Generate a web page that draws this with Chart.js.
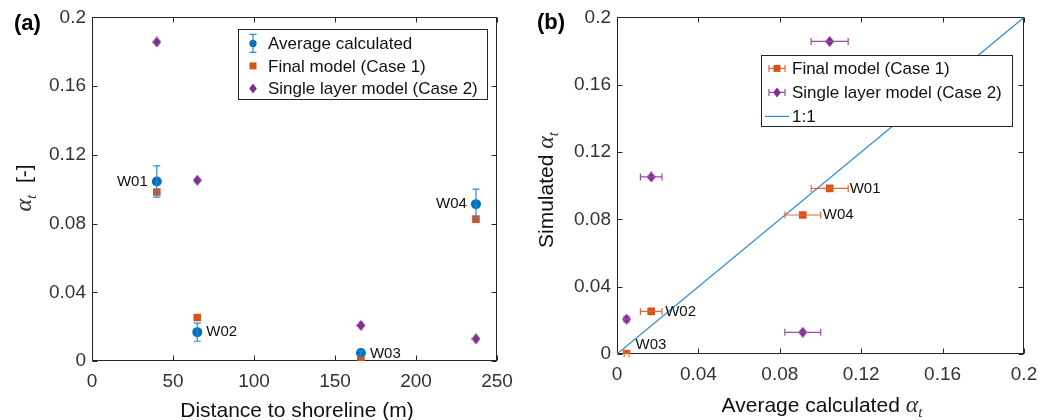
<!DOCTYPE html>
<html><head><meta charset="utf-8">
<script src="https://cdn.jsdelivr.net/npm/chart.js@4.4.0/dist/chart.umd.min.js"></script>
<style>
html,body{margin:0;padding:0;background:#fff;}
#wrap{position:relative;width:1053px;height:420px;overflow:hidden;background:#fff;}
canvas{position:absolute;top:0;}
</style></head><body>
<div id="wrap">
<canvas id="ca" width="527" height="420" style="left:0"></canvas>
<canvas id="cb" width="526" height="420" style="left:527px"></canvas>
</div>
<script>
// ---------------- data ----------------
const wells = ['W01', 'W02', 'W03', 'W04'];
const distance = [40, 65, 166, 237];
const avgCalculated = [0.1045, 0.0168, 0.0047, 0.0913];
const avgError = [0.0091, 0.0053, 0.0012, 0.0088];
const finalModel = [0.0984, 0.0253, 0.0002, 0.0826];
const singleLayer = [0.1857, 0.1052, 0.0207, 0.0129];
const distanceTicks = [0, 50, 100, 150, 200, 250];
const alphaTicks = [0, 0.04, 0.08, 0.12, 0.16, 0.2];
const oneToOne = [0, 0.2];
const legendA = ['Average calculated', 'Final model (Case 1)', 'Single layer model (Case 2)'];
const legendB = ['Final model (Case 1)', 'Single layer model (Case 2)', '1:1'];

// ---------------- styles ----------------
const SANS = '"Liberation Sans", Arial, sans-serif';
const SERIF = '"Liberation Serif", "DejaVu Serif", serif';
const BLUE = '#0072BD', ORANGE = '#D95319', PURPLE = '#7E2F8E';
const AXIS = '#262626';

function makeDiamond(w, h, color) {
  const c = document.createElement('canvas');
  c.width = w; c.height = h;
  const g = c.getContext('2d');
  g.fillStyle = color;
  g.beginPath();
  g.moveTo(w / 2, 0); g.lineTo(w, h / 2); g.lineTo(w / 2, h); g.lineTo(0, h / 2);
  g.closePath(); g.fill();
  return c;
}
const diamond = makeDiamond(9, 11, PURPLE);

// ---------------- plugins ----------------
const framePlugin = {
  id: 'frame',
  beforeDatasetsDraw(chart) {
    const { ctx, chartArea: a, scales: { x, y } } = chart;
    const L = Math.round(a.left) + 0.5, R = Math.round(a.right) - 0.5;
    const T = Math.round(a.top) + 0.5, B = Math.round(a.bottom) - 0.5;
    ctx.save();
    ctx.strokeStyle = AXIS; ctx.lineWidth = 1;
    ctx.strokeRect(L, T, R - L, B - T);
    const tl = 5;
    ctx.beginPath();
    x.ticks.forEach(t => {
      const px = Math.round(x.getPixelForValue(t.value)) + 0.5;
      ctx.moveTo(px, B); ctx.lineTo(px, B - tl);
      ctx.moveTo(px, T); ctx.lineTo(px, T + tl);
    });
    y.ticks.forEach(t => {
      const py = Math.round(y.getPixelForValue(t.value)) + 0.5;
      ctx.moveTo(L, py); ctx.lineTo(L + tl, py);
      ctx.moveTo(R, py); ctx.lineTo(R - tl, py);
    });
    ctx.stroke();
    ctx.restore();
  }
};

const errorBarPlugin = {
  id: 'errbars',
  afterDatasetsDraw(chart, args, opts) {
    const { ctx, scales: { x, y } } = chart;
    (opts.bars || []).forEach(b => {
      const ds = chart.data.datasets[b.dataset];
      ctx.save();
      ctx.strokeStyle = b.color; ctx.lineWidth = 1.2;
      ds.data.forEach((p, i) => {
        const e = b.err[i];
        ctx.beginPath();
        if (b.dir === 'y') {
          const px = x.getPixelForValue(p.x);
          const y1 = y.getPixelForValue(p.y - e), y2 = y.getPixelForValue(p.y + e);
          ctx.moveTo(px, y1); ctx.lineTo(px, y2);
          ctx.moveTo(px - b.cap, y1); ctx.lineTo(px + b.cap, y1);
          ctx.moveTo(px - b.cap, y2); ctx.lineTo(px + b.cap, y2);
        } else {
          const py = y.getPixelForValue(p.y);
          const x1 = x.getPixelForValue(p.x - e), x2 = x.getPixelForValue(p.x + e);
          ctx.moveTo(x1, py); ctx.lineTo(x2, py);
          ctx.moveTo(x1, py - b.cap); ctx.lineTo(x1, py + b.cap);
          ctx.moveTo(x2, py - b.cap); ctx.lineTo(x2, py + b.cap);
        }
        ctx.stroke();
      });
      ctx.restore();
    });
  }
};

const pointLabelPlugin = {
  id: 'ptlabels',
  afterDatasetsDraw(chart, args, opts) {
    if (!opts.labels) return;
    const { ctx, scales: { x, y } } = chart;
    const ds = chart.data.datasets[opts.dataset];
    ctx.save();
    ctx.font = '15px ' + SANS;
    ctx.fillStyle = '#111';
    ctx.textBaseline = 'middle';
    opts.labels.forEach((txt, i) => {
      const o = opts.offsets[i];
      const p = ds.data[i];
      ctx.textAlign = o.align;
      ctx.fillText(txt, x.getPixelForValue(p.x) + o.dx, y.getPixelForValue(p.y) + o.dy);
    });
    ctx.restore();
  }
};

function drawMarker(ctx, kind, cx, cy) {
  ctx.save();
  if (kind === 'circleV') {
    ctx.strokeStyle = '#2a8ad4'; ctx.lineWidth = 1.2;
    ctx.beginPath();
    ctx.moveTo(cx, cy - 9); ctx.lineTo(cx, cy + 9);
    ctx.moveTo(cx - 3.5, cy - 9); ctx.lineTo(cx + 3.5, cy - 9);
    ctx.moveTo(cx - 3.5, cy + 9); ctx.lineTo(cx + 3.5, cy + 9);
    ctx.stroke();
    ctx.fillStyle = BLUE;
    ctx.beginPath(); ctx.arc(cx, cy, 3.6, 0, Math.PI * 2); ctx.fill();
  } else if (kind === 'square') {
    ctx.fillStyle = ORANGE; ctx.fillRect(cx - 3.5, cy - 3.5, 7, 7);
  } else if (kind === 'diamond') {
    ctx.fillStyle = PURPLE;
    ctx.beginPath(); ctx.moveTo(cx, cy - 5); ctx.lineTo(cx + 3.8, cy); ctx.lineTo(cx, cy + 5); ctx.lineTo(cx - 3.8, cy); ctx.closePath(); ctx.fill();
  } else if (kind === 'squareH' || kind === 'diamondH') {
    const col = kind === 'squareH' ? '#e2683a' : '#9a4aaa';
    ctx.strokeStyle = col; ctx.lineWidth = 1.2;
    ctx.beginPath();
    ctx.moveTo(cx - 8, cy); ctx.lineTo(cx + 8, cy);
    ctx.moveTo(cx - 8, cy - 3.5); ctx.lineTo(cx - 8, cy + 3.5);
    ctx.moveTo(cx + 8, cy - 3.5); ctx.lineTo(cx + 8, cy + 3.5);
    ctx.stroke();
    drawMarker(ctx, kind === 'squareH' ? 'square' : 'diamond', cx, cy);
  } else if (kind === 'line') {
    ctx.strokeStyle = '#2b8bd4'; ctx.lineWidth = 1.2;
    ctx.beginPath(); ctx.moveTo(cx - 12, cy); ctx.lineTo(cx + 12, cy); ctx.stroke();
  }
  ctx.restore();
}

const boxLegendPlugin = {
  id: 'boxlegend',
  afterDraw(chart, args, o) {
    if (!o.items) return;
    const ctx = chart.ctx, a = chart.chartArea;
    const left = a.right - o.right - o.width, top = a.top + o.top;
    ctx.save();
    ctx.fillStyle = '#fff';
    ctx.fillRect(left, top, o.width, o.height);
    ctx.strokeStyle = AXIS; ctx.lineWidth = 1;
    ctx.strokeRect(Math.round(left) + 0.5, Math.round(top) + 0.5, o.width, o.height);
    ctx.font = '17px ' + SANS;
    ctx.fillStyle = '#111';
    ctx.textBaseline = 'middle';
    ctx.textAlign = 'left';
    o.items.forEach((it, i) => {
      const cy = top + o.firstRow + i * o.rowGap;
      drawMarker(ctx, it.marker, left + o.markerX, cy);
      ctx.fillText(it.text, left + o.textX, cy + 1);
    });
    ctx.restore();
  }
};

// draws a title consisting of runs (text, font, dy offset)
function drawRuns(ctx, runs, cx, baseY, rotate) {
  ctx.save();
  let total = 0;
  runs.forEach(r => { ctx.font = r.font; r.w = ctx.measureText(r.text).width; total += r.w; });
  ctx.translate(cx, baseY);
  if (rotate) ctx.rotate(-Math.PI / 2);
  ctx.textBaseline = 'alphabetic';
  ctx.textAlign = 'left';
  let x = -total / 2;
  runs.forEach(r => { ctx.font = r.font; ctx.fillStyle = r.color || '#111'; ctx.fillText(r.text, x, r.dy || 0); x += r.w; });
  ctx.restore();
}

const titlesPlugin = {
  id: 'titles',
  afterDraw(chart, args, o) {
    if (!o.draw) return;
    o.draw(chart.ctx, chart);
  }
};

Chart.register(framePlugin, errorBarPlugin, pointLabelPlugin, boxLegendPlugin, titlesPlugin);

function scaleOpts(min, max, tickVals, fitFn) {
  return {
    type: 'linear', min, max,
    afterBuildTicks: s => { s.ticks = tickVals.map(v => ({ value: v })); },
    afterFit: fitFn,
    grid: { display: false, drawTicks: false },
    border: { display: false },
    title: { display: false },
    ticks: {
      font: { family: SANS, size: 19 }, color: '#333',
      autoSkip: false, maxRotation: 0,
      callback: v => String(v)
    }
  };
}

const ALPHA = 'italic 24px ' + SERIF, SUB = 'italic 15px ' + SERIF, GREEK = '#333';

// ---------------- chart (a) ----------------
const xa = scaleOpts(0, 250, distanceTicks, s => { s.height = 59; });
xa.ticks.padding = 9;
const ya = scaleOpts(0, 0.2, alphaTicks, s => { s.width = 92; });
ya.ticks.padding = 6;

new Chart(document.getElementById('ca'), {
  type: 'scatter',
  data: {
    datasets: [
      { label: legendA[0], data: distance.map((d, i) => ({ x: d, y: avgCalculated[i] })),
        pointStyle: 'circle', pointRadius: 5, backgroundColor: BLUE, borderWidth: 0, order: 3 },
      { label: legendA[1], data: distance.map((d, i) => ({ x: d, y: finalModel[i] })),
        pointStyle: 'rect', pointRadius: 5.4, backgroundColor: ORANGE, borderWidth: 0, order: 2 },
      { label: legendA[2], data: distance.map((d, i) => ({ x: d, y: singleLayer[i] })),
        pointStyle: diamond, backgroundColor: PURPLE, borderWidth: 0, order: 1 }
    ]
  },
  options: {
    responsive: false, animation: false, devicePixelRatio: 1,
    layout: { padding: { top: 16, right: 30, left: 0, bottom: 0 } },
    scales: { x: xa, y: ya },
    plugins: {
      legend: { display: false }, tooltip: { enabled: false },
      errbars: { bars: [{ dataset: 0, err: avgError, dir: 'y', cap: 3.5, color: '#2a8ad4' }] },
      ptlabels: {
        dataset: 0, labels: wells,
        offsets: [
          { dx: -9, dy: 0, align: 'right' },
          { dx: 9, dy: 0, align: 'left' },
          { dx: 9, dy: 1, align: 'left' },
          { dx: -9, dy: 0, align: 'right' }
        ]
      },
      boxlegend: {
        items: [
          { marker: 'circleV', text: legendA[0] },
          { marker: 'square', text: legendA[1] },
          { marker: 'diamond', text: legendA[2] }
        ],
        right: 10, top: 12, width: 249, height: 70,
        firstRow: 14, rowGap: 22.5, markerX: 15, textX: 30
      },
      titles: {
        draw(ctx) {
          ctx.save();
          ctx.font = 'bold 22px ' + SANS; ctx.fillStyle = '#000';
          ctx.textBaseline = 'alphabetic'; ctx.fillText('(a)', 14, 30);
          ctx.restore();
          drawRuns(ctx, [{ text: 'Distance to shoreline (m)', font: '21px ' + SANS }], 297, 417, false);
          drawRuns(ctx, [
            { text: 'α', font: ALPHA, color: GREEK },
            { text: 't', font: SUB, dy: 5, color: GREEK },
            { text: '  [-]', font: '21px ' + SANS }
          ], 31, 188, true);
        }
      }
    }
  }
});

// ---------------- chart (b) ----------------
const xb = scaleOpts(0, 0.2, alphaTicks, s => { s.height = 66; });
xb.ticks.padding = 9;
const yb = scaleOpts(0, 0.2, alphaTicks, s => { s.width = 90; });
yb.ticks.padding = 6;

new Chart(document.getElementById('cb'), {
  type: 'scatter',
  data: {
    datasets: [
      { type: 'line', label: legendB[2], data: oneToOne.map(v => ({ x: v, y: v })),
        borderColor: '#2b8bd4', borderWidth: 1.2, pointRadius: 0, fill: false, order: 3 },
      { label: legendB[0], data: avgCalculated.map((v, i) => ({ x: v, y: finalModel[i] })),
        pointStyle: 'rect', pointRadius: 5.4, backgroundColor: ORANGE, borderWidth: 0, order: 2 },
      { label: legendB[1], data: avgCalculated.map((v, i) => ({ x: v, y: singleLayer[i] })),
        pointStyle: diamond, backgroundColor: PURPLE, borderWidth: 0, order: 1 }
    ]
  },
  options: {
    responsive: false, animation: false, devicePixelRatio: 1,
    layout: { padding: { top: 16, right: 29, left: 0, bottom: 0 } },
    scales: { x: xb, y: yb },
    plugins: {
      legend: { display: false }, tooltip: { enabled: false },
      errbars: { bars: [
        { dataset: 1, err: avgError, dir: 'x', cap: 3.5, color: '#e2683a' },
        { dataset: 2, err: avgError, dir: 'x', cap: 3.5, color: '#9a4aaa' }
      ] },
      ptlabels: {
        dataset: 1, labels: wells,
        offsets: [
          { dx: 20, dy: 0, align: 'left' },
          { dx: 14, dy: 0, align: 'left' },
          { dx: 9, dy: -9, align: 'left' },
          { dx: 20, dy: 0, align: 'left' }
        ]
      },
      boxlegend: {
        items: [
          { marker: 'squareH', text: legendB[0] },
          { marker: 'diamondH', text: legendB[1] },
          { marker: 'line', text: legendB[2] }
        ],
        right: 12, top: 38, width: 251, height: 71,
        firstRow: 13, rowGap: 24, markerX: 16, textX: 31
      },
      titles: {
        draw(ctx) {
          ctx.save();
          ctx.font = 'bold 22px ' + SANS; ctx.fillStyle = '#000';
          ctx.textBaseline = 'alphabetic'; ctx.fillText('(b)', 10, 29);
          ctx.restore();
          drawRuns(ctx, [
            { text: 'Average calculated ', font: '21px ' + SANS },
            { text: 'α', font: ALPHA, color: GREEK },
            { text: 't', font: SUB, dy: 5, color: GREEK }
          ], 295, 412, false);
          drawRuns(ctx, [
            { text: 'Simulated ', font: '21px ' + SANS },
            { text: 'α', font: ALPHA, color: GREEK },
            { text: 't', font: SUB, dy: 5, color: GREEK }
          ], 26, 190, true);
        }
      }
    }
  }
});
</script>
</body></html>
